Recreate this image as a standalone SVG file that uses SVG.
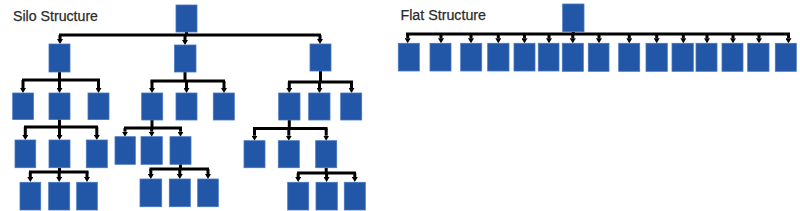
<svg xmlns="http://www.w3.org/2000/svg" width="800" height="211" viewBox="0 0 800 211">
<style>
.n{fill:#2256a6;stroke:#4676bf;stroke-width:0.8}
.t{font-family:"Liberation Sans",Arial,sans-serif;font-size:14px;fill:#2b2b2b;stroke:#2b2b2b;stroke-width:0.25}
.c path{fill:none;stroke:#000;stroke-width:3}
.c path.d{marker-end:url(#ah)}
</style>
<defs>
<marker id="ah" viewBox="0 0 5 6" refX="0" refY="3" markerWidth="5" markerHeight="6" markerUnits="userSpaceOnUse" orient="auto"><path d="M0,0 L5,3 L0,6 z" fill="#000"/></marker>
</defs>
<text class="t" x="13" y="21" textLength="85" lengthAdjust="spacingAndGlyphs">Silo Structure</text>
<text class="t" x="400.5" y="20" textLength="85.5" lengthAdjust="spacingAndGlyphs">Flat Structure</text>
<g class="c" id="connectors">
<path d="M186.5,32 V35 M59,35 H321"/>
<path class="d" d="M60,35 V39"/><path class="d" d="M185,35 V40"/><path class="d" d="M320,35 V39"/>
<path d="M59.5,72 V80 M22,80 H100"/>
<path class="d" d="M23,80 V88"/><path class="d" d="M59.5,80 V88"/><path class="d" d="M98.5,80 V88"/>
<path d="M185,72 V81 M150.5,81 H225"/>
<path class="d" d="M152,81 V88"/><path class="d" d="M186.5,81 V88"/><path class="d" d="M224,81 V88"/>
<path d="M320.5,71 V82 M288,82 H353"/>
<path class="d" d="M289.3,82 V88"/><path class="d" d="M319.5,82 V88"/><path class="d" d="M351.5,82 V88"/>
<path d="M59.5,119 V127 M24,127 H98"/>
<path class="d" d="M25.3,127 V135"/><path class="d" d="M59.5,127 V135"/><path class="d" d="M96.8,127 V135"/>
<path d="M59.5,168 V172 M29,172 H88.5"/>
<path class="d" d="M30.3,172 V177"/><path class="d" d="M59.2,172 V177"/><path class="d" d="M87,172 V177"/>
<path d="M152,120 V128 M124,128 H182"/>
<path class="d" d="M125,128 V131.7"/><path class="d" d="M151.7,128 V131.7"/><path class="d" d="M180.5,128 V131.7"/>
<path d="M180.5,164 V169 M149.5,169 H209"/>
<path class="d" d="M150.8,169 V174"/><path class="d" d="M179.8,169 V174"/><path class="d" d="M208,169 V174"/>
<path d="M289.3,120 V128.5 M253,128.5 H327.5"/>
<path class="d" d="M254.5,128.5 V135.7"/><path class="d" d="M288.8,128.5 V135.7"/><path class="d" d="M326.2,128.5 V135.7"/>
<path d="M326.2,168 V173 M297,173 H356"/>
<path class="d" d="M298.2,173 V177"/><path class="d" d="M326.6,173 V177"/><path class="d" d="M354.8,173 V177"/>
<path d="M573.3,31.7 V34 M406,34 H790"/>
<path class="d" d="M407.7,34 V38.3"/><path class="d" d="M441,34 V38.3"/><path class="d" d="M471,34 V38.3"/><path class="d" d="M498.3,34 V38.3"/><path class="d" d="M524.5,34 V38.3"/><path class="d" d="M549,34 V38.3"/><path class="d" d="M572.8,34 V38.3"/><path class="d" d="M599,34 V38.3"/><path class="d" d="M629.3,34 V38.3"/><path class="d" d="M656.7,34 V38.3"/><path class="d" d="M683.3,34 V38.3"/><path class="d" d="M707,34 V38.3"/><path class="d" d="M733,34 V38.3"/><path class="d" d="M759,34 V38.3"/><path class="d" d="M788.5,34 V38.3"/>
</g>
<rect id="s-root" class="n" x="176" y="5" width="21" height="27"/>
<rect id="s-a" class="n" x="49" y="44" width="21" height="28"/>
<rect id="s-b" class="n" x="174.5" y="45" width="21.5" height="27"/>
<rect id="s-c" class="n" x="310" y="44" width="21" height="27"/>
<rect id="s-a1" class="n" x="12.7" y="93" width="20.7" height="26.5"/>
<rect id="s-a2" class="n" x="49" y="93" width="21" height="26.5"/>
<rect id="s-a3" class="n" x="88" y="93" width="21" height="26.5"/>
<rect id="s-b1" class="n" x="141.7" y="93" width="21" height="27"/>
<rect id="s-b2" class="n" x="176" y="93" width="21" height="27"/>
<rect id="s-b3" class="n" x="213.3" y="93" width="21" height="27"/>
<rect id="s-c1" class="n" x="278.7" y="93" width="21.3" height="27"/>
<rect id="s-c2" class="n" x="308.7" y="93" width="21.3" height="27"/>
<rect id="s-c3" class="n" x="340.7" y="93" width="21" height="27"/>
<rect id="s-a21" class="n" x="15" y="140" width="20.7" height="27.7"/>
<rect id="s-a22" class="n" x="49" y="140" width="21" height="27.7"/>
<rect id="s-a23" class="n" x="86.3" y="140" width="21" height="27.7"/>
<rect id="s-a221" class="n" x="20" y="182.3" width="20.7" height="27.7"/>
<rect id="s-a222" class="n" x="48.7" y="182.3" width="21" height="27.7"/>
<rect id="s-a223" class="n" x="76.7" y="182.3" width="20.6" height="27.7"/>
<rect id="s-b11" class="n" x="115" y="136.7" width="20.3" height="27.6"/>
<rect id="s-b12" class="n" x="141" y="136.7" width="21.3" height="27.6"/>
<rect id="s-b13" class="n" x="170" y="136.7" width="21" height="27.6"/>
<rect id="s-b131" class="n" x="140" y="179" width="21.7" height="27.7"/>
<rect id="s-b132" class="n" x="169.3" y="179" width="21" height="27.7"/>
<rect id="s-b133" class="n" x="197.7" y="179" width="20.6" height="27.7"/>
<rect id="s-c11" class="n" x="244" y="140.7" width="21" height="27"/>
<rect id="s-c12" class="n" x="278.3" y="140.7" width="21" height="27"/>
<rect id="s-c13" class="n" x="315.7" y="140.7" width="21" height="27"/>
<rect id="s-c131" class="n" x="287.7" y="182.3" width="21" height="27.7"/>
<rect id="s-c132" class="n" x="316" y="182.3" width="21.3" height="27.7"/>
<rect id="s-c133" class="n" x="344.3" y="182.3" width="21" height="27.7"/>
<rect id="f-root" class="n" x="562.7" y="4" width="21.3" height="27.7"/>
<rect id="f-1" class="n" x="398.3" y="43.3" width="21" height="27.7"/>
<rect id="f-2" class="n" x="430" y="43.3" width="21" height="27.7"/>
<rect id="f-3" class="n" x="460.7" y="43.3" width="21" height="27.7"/>
<rect id="f-4" class="n" x="487.7" y="43.3" width="21.3" height="27.7"/>
<rect id="f-5" class="n" x="514" y="43.3" width="21" height="27.7"/>
<rect id="f-6" class="n" x="538.3" y="43.3" width="20.7" height="27.7"/>
<rect id="f-7" class="n" x="562.3" y="43.3" width="21" height="28"/>
<rect id="f-8" class="n" x="588.3" y="43.3" width="20.7" height="28"/>
<rect id="f-9" class="n" x="618.7" y="43.3" width="21" height="28"/>
<rect id="f-10" class="n" x="646" y="43.3" width="21.3" height="28"/>
<rect id="f-11" class="n" x="672" y="43.3" width="21.3" height="28"/>
<rect id="f-12" class="n" x="696" y="43.3" width="21" height="28"/>
<rect id="f-13" class="n" x="722" y="43.3" width="21" height="28"/>
<rect id="f-14" class="n" x="747.7" y="43.3" width="21.3" height="28"/>
<rect id="f-15" class="n" x="775.3" y="43.3" width="21" height="28"/>
</svg>
